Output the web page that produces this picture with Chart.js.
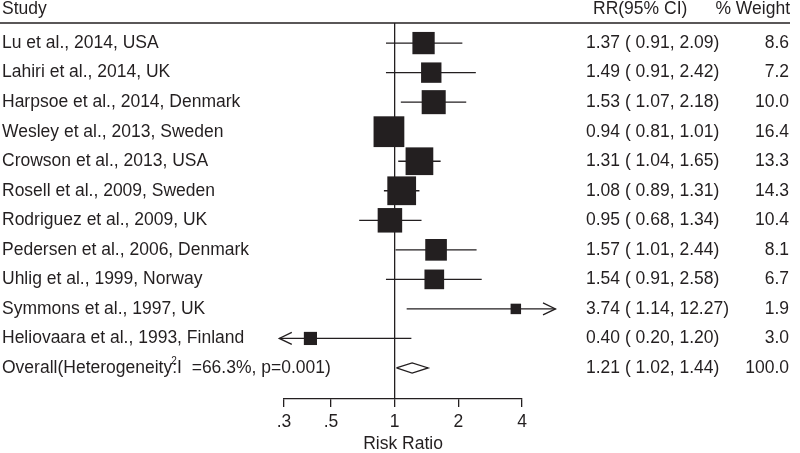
<!DOCTYPE html>
<html>
<head>
<meta charset="utf-8">
<script src="https://cdn.jsdelivr.net/npm/chart.js@4.4.1/dist/chart.umd.min.js"></script>
<style>
  html, body { margin: 0; padding: 0; background: #fff; }
  canvas { display: block; }
</style>
</head>
<body>
<canvas id="forest" width="800" height="453"></canvas>
<script>
// studies, top to bottom
const studies = [
    'Lu et al., 2014, USA',
    'Lahiri et al., 2014, UK',
    'Harpsoe et al., 2014, Denmark',
    'Wesley et al., 2013, Sweden',
    'Crowson et al., 2013, USA',
    'Rosell et al., 2009, Sweden',
    'Rodriguez et al., 2009, UK',
    'Pedersen et al., 2006, Denmark',
    'Uhlig et al., 1999, Norway',
    'Symmons et al., 1997, UK',
    'Heliovaara et al., 1993, Finland'
];
const rr = [1.37, 1.49, 1.53, 0.94, 1.31, 1.08, 0.95, 1.57, 1.54, 3.74, 0.40];
const lower = [0.91, 0.91, 1.07, 0.81, 1.04, 0.89, 0.68, 1.01, 0.91, 1.14, 0.20];
const upper = [2.09, 2.42, 2.18, 1.01, 1.65, 1.31, 1.34, 2.44, 2.58, 12.27, 1.20];
const weights = [8.6, 7.2, 10.0, 16.4, 13.3, 14.3, 10.4, 8.1, 6.7, 1.9, 3.0];

// pooled estimate
const overallLabel = ['Overall(Heterogeneity', ':I  =66.3%, p=0.001)', '2'];
const overall = [1.21, 1.02, 1.44];
const overallWeight = 100.0;

const xTicks = [0.3, 0.5, 1, 2, 4];
const xTickLabels = ['.3', '.5', '1', '2', '4'];
const headers = ['Study', 'RR(95% CI)', '% Weight'];

const ink = '#231f20';
const fontSize = 17.5;
const fontFamily = '"Liberation Sans", Arial, Helvetica, sans-serif';
const clipLo = 0.285, clipHi = 5.76;   // where CIs get arrows
const boxScale = 7.6;                  // square side per sqrt(weight)
const overallRow = studies.length;

let whiskers = [];
studies.forEach((s, i) => {
    whiskers.push({ x: Math.max(lower[i], clipLo), y: i });
    whiskers.push({ x: Math.min(upper[i], clipHi), y: i });
    whiskers.push({ x: rr[i], y: null });
});

let boxes = rr.map((v, i) => ({ x: v, y: i }));
let boxRadius = weights.map(w => boxScale * Math.sqrt(w) / Math.SQRT2);

const dh = 0.17;
let diamond = [
    { x: overall[1], y: overallRow },
    { x: overall[0], y: overallRow - dh },
    { x: overall[2], y: overallRow },
    { x: overall[0], y: overallRow + dh },
    { x: overall[1], y: overallRow }
];

const forestText = {
    id: 'forestText',
    afterDraw(chart) {
        const ctx = chart.ctx;
        const xs = chart.scales.x, ys = chart.scales.y;
        ctx.save();
        ctx.strokeStyle = ink;
        ctx.fillStyle = ink;
        ctx.lineWidth = 1.3;

        // arrows for clipped intervals
        studies.forEach((s, i) => {
            const y = ys.getPixelForValue(i);
            if (lower[i] < clipLo) {
                const tip = xs.getPixelForValue(clipLo);
                ctx.beginPath();
                ctx.moveTo(tip + 12.5, y - 6);
                ctx.lineTo(tip, y);
                ctx.lineTo(tip + 12.5, y + 6);
                ctx.stroke();
            }
            if (upper[i] > clipHi) {
                const tip = xs.getPixelForValue(clipHi);
                ctx.beginPath();
                ctx.moveTo(tip - 12.5, y - 6);
                ctx.lineTo(tip, y);
                ctx.lineTo(tip - 12.5, y + 6);
                ctx.stroke();
            }
        });

        // header rule
        ctx.beginPath();
        ctx.moveTo(0, chart.chartArea.top);
        ctx.lineTo(790, chart.chartArea.top);
        ctx.stroke();

        ctx.font = fontSize + 'px ' + fontFamily;
        ctx.textBaseline = 'middle';
        ctx.textAlign = 'left';
        ctx.fillText(headers[0], 2, 9);
        ctx.fillText(headers[1], 593, 9);
        ctx.textAlign = 'right';
        ctx.fillText(headers[2], 790, 9);

        studies.forEach((s, i) => {
            const y = ys.getPixelForValue(i);
            ctx.textAlign = 'left';
            ctx.fillText(s, 2, y);
            ctx.fillText(rr[i].toFixed(2) + ' ( ' + lower[i].toFixed(2) + ', ' + upper[i].toFixed(2) + ')', 586, y);
            ctx.textAlign = 'right';
            ctx.fillText(weights[i].toFixed(1), 789, y);
        });

        const oy = ys.getPixelForValue(overallRow);
        ctx.textAlign = 'left';
        ctx.fillText(overallLabel[0], 2, oy);
        const w0 = ctx.measureText(overallLabel[0]).width;
        ctx.fillText(overallLabel[1], 2 + w0, oy);
        ctx.fillText(overall[0].toFixed(2) + ' ( ' + overall[1].toFixed(2) + ', ' + overall[2].toFixed(2) + ')', 586, oy);
        ctx.textAlign = 'right';
        ctx.fillText(overallWeight.toFixed(1), 789, oy);
        ctx.textAlign = 'left';
        ctx.font = '10px ' + fontFamily;
        ctx.fillText(overallLabel[2], 2 + w0 - 1, oy - 7);
        ctx.restore();
    }
};

new Chart(document.getElementById('forest'), {
    type: 'scatter',
    data: {
        datasets: [
            {
                type: 'scatter',
                data: boxes,
                pointStyle: 'rect',
                pointRadius: boxRadius,
                pointHoverRadius: boxRadius,
                backgroundColor: ink,
                borderWidth: 0,
                clip: false,
                order: 1
            },
            {
                type: 'line',
                data: whiskers,
                borderColor: ink,
                borderWidth: 1.3,
                pointRadius: 0,
                spanGaps: false,
                tension: 0,
                fill: false,
                clip: false,
                order: 2
            },
            {
                type: 'line',
                data: diamond,
                borderColor: ink,
                borderWidth: 1.3,
                backgroundColor: '#fff',
                pointRadius: 0,
                tension: 0,
                fill: false,
                clip: false,
                order: 3
            }
        ]
    },
    options: {
        responsive: false,
        animation: false,
        layout: { padding: { left: 284, right: 278, top: 23, bottom: 0 } },
        plugins: { legend: { display: false }, tooltip: { enabled: false } },
        scales: {
            x: {
                type: 'logarithmic',
                min: 0.3,
                max: 4,
                afterBuildTicks: s => { s.ticks = xTicks.map(v => ({ value: v })); },
                afterFit: s => { s.height = 54; },
                ticks: {
                    autoSkip: false,
                    maxRotation: 0,
                    padding: 5,
                    color: ink,
                    font: { size: fontSize, family: fontFamily },
                    callback: (v, i) => xTickLabels[i]
                },
                grid: {
                    color: c => (c.tick && c.tick.value === 1) ? ink : 'rgba(0,0,0,0)',
                    tickColor: ink,
                    tickLength: 8,
                    lineWidth: 1.3
                },
                border: { display: true, color: ink, width: 1.3 },
                title: {
                    display: true,
                    text: 'Risk Ratio',
                    color: ink,
                    font: { size: fontSize, family: fontFamily, lineHeight: 1 },
                    padding: { top: 0, bottom: 0 }
                }
            },
            y: {
                type: 'linear',
                display: false,
                reverse: true,
                min: -0.68,
                max: 12.05
            }
        }
    },
    plugins: [forestText]
});
</script>
</body>
</html>
